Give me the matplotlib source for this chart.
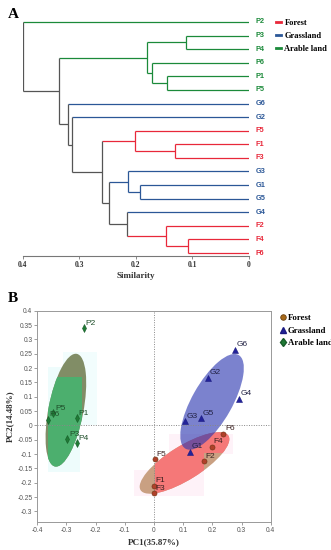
import matplotlib
matplotlib.use('Agg')
import matplotlib.pyplot as plt
from matplotlib.patches import Ellipse, Rectangle
from matplotlib.lines import Line2D

SERIF = 'Liberation Serif'
SANS = 'Liberation Sans'

# ---- panel A data: leaf order and merges (child, child, similarity)
leaves = ['P2', 'P3', 'P4', 'P6', 'P1', 'P5', 'G6', 'G2', 'F5', 'F1', 'F3',
          'G3', 'G1', 'G5', 'G4', 'F2', 'F4', 'F6']
merges = [('P3', 'P4', 0.112), ('P1', 'P5', 0.145), ('P6', 1, 0.171), (0, 2, 0.180),
          ('F1', 'F3', 0.130), ('F5', 4, 0.201), ('G1', 'G5', 0.193), ('G3', 6, 0.213),
          ('F4', 'F6', 0.108), ('F2', 8, 0.147), ('G4', 9, 0.216), (7, 10, 0.248),
          (5, 11, 0.260), ('G2', 12, 0.313), ('G6', 13, 0.320), (3, 14, 0.335),
          ('P2', 15, 0.400)]
sim_ticks = [0.4, 0.3, 0.2, 0.1, 0]

# ---- panel B data: PCA scores
arable_names = ['P1', 'P2', 'P3', 'P4', 'P5', 'P6']
arable_pc1 = [-0.265, -0.240, -0.297, -0.265, -0.345, -0.364]
arable_pc2 = [0.024, 0.338, -0.049, -0.063, 0.042, 0.019]
grass_names = ['G1', 'G2', 'G3', 'G4', 'G5', 'G6']
grass_pc1 = [0.123, 0.186, 0.106, 0.291, 0.161, 0.278]
grass_pc2 = [-0.092, 0.166, 0.014, 0.092, 0.024, 0.264]
forest_names = ['F1', 'F2', 'F3', 'F4', 'F5', 'F6']
forest_pc1 = [0.0, 0.172, 0.0, 0.199, 0.003, 0.238]
forest_pc2 = [-0.211, -0.126, -0.237, -0.075, -0.118, -0.030]

col = {'F': '#e8283a', 'G': '#2b5797', 'P': '#1b8a3a'}
gray = '#555555'

fig = plt.figure(figsize=(3.31, 5.50), dpi=100)

# ================= A: dendrogram
ax = fig.add_axes([22.7 / 331, 1 - 256 / 550, 226.3 / 331, 241 / 550])
ypos = {n: i for i, n in enumerate(leaves)}
xpos = {n: 0.0 for n in leaves}
grp = {n: {n[0]} for n in leaves}
lw = 0.9
for k, (a, b, h) in enumerate(merges):
    g = grp[a] | grp[b]
    for c in (a, b):
        cc = col[list(grp[c])[0]] if len(grp[c]) == 1 else gray
        ax.plot([xpos[c], h], [ypos[c], ypos[c]], color=cc, lw=lw, solid_capstyle='butt')
    vc = col[list(g)[0]] if len(g) == 1 else gray
    ax.plot([h, h], [ypos[a], ypos[b]], color=vc, lw=lw, solid_capstyle='butt')
    ypos[k] = (ypos[a] + ypos[b]) / 2
    xpos[k] = h
    grp[k] = g

for n in leaves:
    ax.text(-0.012, ypos[n], n, color=col[n[0]], fontsize=5.3, fontfamily=SANS,
            fontweight='bold', va='center', ha='left')

ax.set_xlim(0.4, 0)
ax.set_ylim(17.22, -0.515)
for s in ['top', 'right', 'left']:
    ax.spines[s].set_visible(False)
ax.spines['bottom'].set_color('#777777')
ax.spines['bottom'].set_linewidth(0.8)
ax.set_yticks([])
ax.set_xticks(sim_ticks)
ax.set_xticklabels(['0.4', '0.3', '0.2', '0.1', '0'])
ax.tick_params(axis='x', length=2, width=0.6, color='#777777', pad=1.5, labelsize=5.5)
for t in ax.get_xticklabels():
    t.set_fontfamily(SERIF)
    t.set_fontweight('bold')
    t.set_color('#333333')
ax.set_xlabel('Similarity', fontfamily=SERIF, fontweight='bold', fontsize=6.5,
              color='#333333', labelpad=2)

fig.text(8 / 331, 1 - 15 / 550, 'A', fontfamily=SERIF, fontweight='bold', fontsize=11,
         va='center', ha='left')
handles = [Line2D([], [], color=col['F'], lw=2),
           Line2D([], [], color=col['G'], lw=2),
           Line2D([], [], color=col['P'], lw=2)]
fig.legend(handles, ['Forest', 'Grassland', 'Arable land'], loc='upper left',
           bbox_to_anchor=(276 / 331, 1 - 19 / 550), frameon=False, handlelength=0.6,
           handletextpad=0.4, labelspacing=0.6, borderpad=0, borderaxespad=0,
           prop={'family': SERIF, 'weight': 'bold', 'size': 6.0})

# ================= B: PCA
bx = fig.add_axes([37.3 / 331, 1 - 521.7 / 550, 233.4 / 331, 211 / 550])
bx.set_xlim(-0.4, 0.4)
bx.set_ylim(-0.336, 0.4)

# faint background boxes
for (x0, y0, w, h, c) in [(-0.362, -0.163, 0.108, 0.367, '#eefcfc'),
                          (-0.312, 0.0, 0.117, 0.256, '#f2fdfd'),
                          (-0.07, -0.245, 0.24, 0.09, '#fef2f8'),
                          (0.05, -0.1, 0.22, 0.07, '#fef2f8')]:
    bx.add_patch(Rectangle((x0, y0), w, h, facecolor=c, edgecolor='none', zorder=0))

# arable ellipse: olive base + green part
bx.add_patch(Ellipse((-0.302, 0.053), 0.12, 0.40, angle=-10.7, facecolor='#818d66',
                     edgecolor='none', zorder=1))
e = Ellipse((-0.302, 0.053), 0.12, 0.40, angle=-10.7, facecolor='#4caf6e',
            edgecolor='none', zorder=1.1)
bx.add_patch(e)
e.set_clip_path(Rectangle((-0.362, -0.2), 0.115, 0.37, transform=bx.transData))

# forest ellipse: tan base + salmon parts
bx.add_patch(Ellipse((0.1046, -0.131), 0.356, 0.118, angle=32.3, facecolor='#c9a082',
                     edgecolor='none', zorder=1))
for (x0, y0, w, h) in [(0.005, -0.26, 0.165, 0.26), (0.17, -0.095, 0.09, 0.095)]:
    e = Ellipse((0.1046, -0.131), 0.356, 0.118, angle=32.3, facecolor='#f57878',
                edgecolor='none', zorder=1.1)
    bx.add_patch(e)
    e.set_clip_path(Rectangle((x0, y0), w, h, transform=bx.transData))

# grassland ellipse, translucent
bx.add_patch(Ellipse((0.199, 0.082), 0.374, 0.138, angle=61.0, facecolor='#2a36b0',
                     alpha=0.62, edgecolor='none', zorder=1.2))

bx.axvline(0, color='#888888', lw=0.7, ls=(0, (1, 1.5)), zorder=1.5)
bx.axhline(0, color='#888888', lw=0.7, ls=(0, (1, 1.5)), zorder=1.5)

bx.plot(forest_pc1, forest_pc2, 'o', ms=3.6, mfc='#b0402a', mec='#7a3a1a', mew=0.5, zorder=3)
bx.plot(grass_pc1, grass_pc2, '^', ms=4.2, mfc='#23239a', mec='#1a1a80', mew=0.4, zorder=3)
bx.plot(arable_pc1, arable_pc2, 'd', ms=4.0, mfc='#1f7a35', mec='#175c28', mew=0.4, zorder=3)

for names, xs, ys, tc in [(arable_names, arable_pc1, arable_pc2, '#1f4f2a'),
                          (grass_names, grass_pc1, grass_pc2, '#222244'),
                          (forest_names, forest_pc1, forest_pc2, '#3a2020')]:
    for n, x, y in zip(names, xs, ys):
        bx.annotate(n, (x, y), xytext=(1.2, 1.2), textcoords='offset points',
                    fontsize=6, fontfamily=SANS, color=tc, ha='left', va='bottom', zorder=4)

bx.set_xticks([-0.4, -0.3, -0.2, -0.1, 0, 0.1, 0.2, 0.3, 0.4])
bx.set_xticklabels(['-0.4', '-0.3', '-0.2', '-0.1', '0', '0.1', '0.2', '0.3', '0.4'])
yt = [0.4, 0.35, 0.3, 0.25, 0.2, 0.15, 0.1, 0.05, 0, -0.05, -0.1, -0.15, -0.2, -0.25, -0.3]
bx.set_yticks(yt)
bx.set_yticklabels(['%g' % v for v in yt])
bx.tick_params(length=2, width=0.5, color='#777777', labelsize=4.8, labelcolor='#555555', pad=1.5)
for t in bx.get_xticklabels() + bx.get_yticklabels():
    t.set_fontfamily(SANS)
for s in bx.spines.values():
    s.set_color('#999999')
    s.set_linewidth(0.7)
bx.set_xlabel('PC1(35.87%)', fontfamily=SERIF, fontweight='bold', fontsize=6.5,
              color='#333333', labelpad=3)
bx.set_ylabel('PC2(14.48%)', fontfamily=SERIF, fontweight='bold', fontsize=6.5,
              color='#333333', labelpad=2)

fig.text(8 / 331, 1 - 298 / 550, 'B', fontfamily=SERIF, fontweight='bold', fontsize=11,
         va='center', ha='left')
mh = [Line2D([], [], ls='none', marker='o', ms=4, mfc='#a86a1a', mec='#6a4010', mew=0.6),
      Line2D([], [], ls='none', marker='^', ms=4.5, mfc='#23239a', mec='#1a1a80'),
      Line2D([], [], ls='none', marker='d', ms=4.5, mfc='#1f7a35', mec='#175c28')]
fig.legend(mh, ['Forest', 'Grassland', 'Arable land'], loc='upper left',
           bbox_to_anchor=(279 / 331, 1 - 314 / 550), frameon=False, handlelength=0.8,
           handletextpad=0.2, labelspacing=0.5, borderpad=0, borderaxespad=0,
           prop={'family': SERIF, 'weight': 'bold', 'size': 6.3})

fig.savefig('out.png', dpi=100)
